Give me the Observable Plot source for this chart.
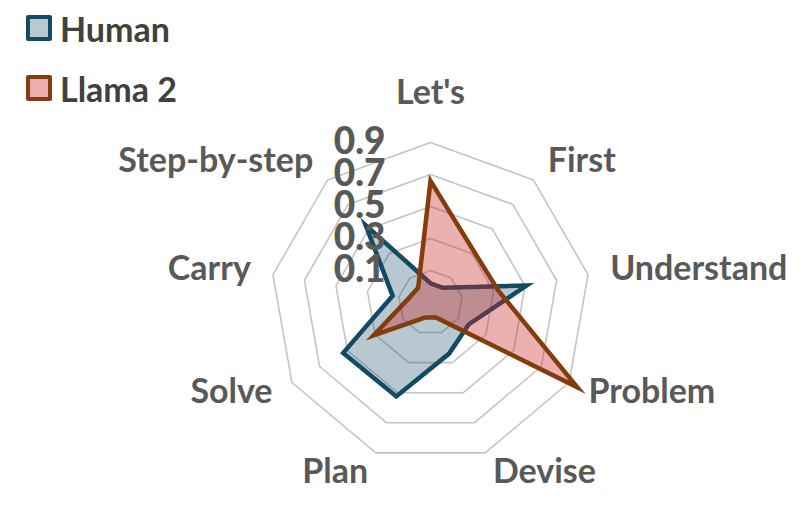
<!DOCTYPE html>
<html>
<head>
<meta charset="utf-8">
<script src="https://cdn.jsdelivr.net/npm/d3@7"></script>
<script src="https://cdn.jsdelivr.net/npm/@observablehq/plot@0.6"></script>
<style>
  html, body { margin: 0; padding: 0; background: #fff; }
  #wrap { position: relative; width: 810px; height: 510px; }
  #legend { position: absolute; left: 0; top: 0; font-family: Lato, sans-serif; font-weight: 700; font-size: 34px; color: #404040; }
  .item { position: absolute; left: 26px; display: flex; align-items: center; white-space: nowrap; }
  .sw { width: 26px; height: 26px; box-sizing: border-box; border: 4px solid; border-radius: 2px; margin-right: 8px; }
</style>
</head>
<body>
<div id="wrap">
  <div id="chart"></div>
  <div id="legend"></div>
</div>
<script>
const categories = ["Let's", "First", "Understand", "Problem", "Devise", "Plan", "Solve", "Carry", "Step-by-step"];
const seriesNames = ["Human", "Llama 2"];
const humanValues = [0.02, 0.02, 0.51, 0.175, 0.24, 0.525, 0.53, 0.14, 0.53];
const llamaValues = [0.66, 0.32, 0.33, 0.96, 0.00, 0.00, 0.31, 0.04, 0.02];
const ringValues = [0.1, 0.3, 0.5, 0.7, 0.9];
const tickLabels = ["0.1", "0.3", "0.5", "0.7", "0.9"];
const axisMin = -0.1;
const labelValue = 1.04;

const strokeColors = {"Human": "#134a63", "Llama 2": "#843c0c"};
const fillColors = {"Human": "#134a63", "Llama 2": "#c82828"};
const fillOpacity = {"Human": 0.3, "Llama 2": 0.37};

const n = categories.length;
const ang = (i) => (i * 2 * Math.PI) / n;
const px = (v, i) => (v - axisMin) * Math.sin(ang(i));
const py = (v, i) => (v - axisMin) * Math.cos(ang(i));

const ringPts = ringValues.flatMap((r) => categories.map((c, i) => ({ring: r, i})));
const series = [
  {name: "Human", values: humanValues},
  {name: "Llama 2", values: llamaValues}
];
const seriesPts = (s) => s.values.map((v, i) => ({name: s.name, v, i}));
const ticks = ringValues.map((v, k) => ({v, label: tickLabels[k]}));
const cats = categories.map((c, i) => ({c, i}));
const anchorOf = (i) => (i === 0 ? "middle" : i <= 4 ? "start" : "end");

const font = {fontFamily: "Lato, sans-serif", fontWeight: 700, fontSize: 34};

const marks = [
  Plot.line(ringPts, {
    x: (d) => px(d.ring, d.i), y: (d) => py(d.ring, d.i), z: "ring",
    curve: "linear-closed", stroke: "#c4c4c4", strokeWidth: 1.6
  })
];
for (const s of series) {
  marks.push(Plot.line(seriesPts(s), {
    x: (d) => px(d.v, d.i), y: (d) => py(d.v, d.i),
    curve: "linear-closed",
    fill: fillColors[s.name], fillOpacity: fillOpacity[s.name],
    stroke: strokeColors[s.name], strokeWidth: 4.5,
    strokeLinejoin: "miter", strokeMiterlimit: 10
  }));
}
marks.push(Plot.text(ticks, {
  x: (d) => px(d.v, 0), y: (d) => py(d.v, 0), text: "label",
  textAnchor: "end", dx: -45, fill: "#595959",
  fontFamily: "Lato, sans-serif", fontWeight: 900, fontSize: 37
}));
for (const a of ["start", "middle", "end"]) {
  marks.push(Plot.text(cats.filter((d) => anchorOf(d.i) === a), {
    x: (d) => px(labelValue, d.i), y: (d) => py(labelValue, d.i), text: "c",
    textAnchor: a, dy: a === "middle" ? -27 : -2, fill: "#595959", ...font
  }));
}

const chart = Plot.plot({
  width: 810,
  height: 510,
  marginLeft: 270,
  marginRight: 220,
  marginTop: 142,
  marginBottom: 48,
  x: {domain: [-1, 1], axis: null},
  y: {domain: [-1, 1], axis: null},
  style: {background: "transparent", overflow: "visible"},
  marks
});
document.getElementById("chart").appendChild(chart);

const legend = document.getElementById("legend");
const legendTops = [15, 75];
seriesNames.forEach((name, k) => {
  const item = document.createElement("div");
  item.className = "item";
  item.style.top = (legendTops[k] - 4) + "px";
  item.style.height = "34px";
  const sw = document.createElement("div");
  sw.className = "sw";
  sw.style.borderColor = strokeColors[name];
  sw.style.background = d3.interpolateRgb("#ffffff", fillColors[name])(fillOpacity[name]);
  const t = document.createElement("span");
  t.textContent = name;
  item.appendChild(sw);
  item.appendChild(t);
  legend.appendChild(item);
});
</script>
</body>
</html>
